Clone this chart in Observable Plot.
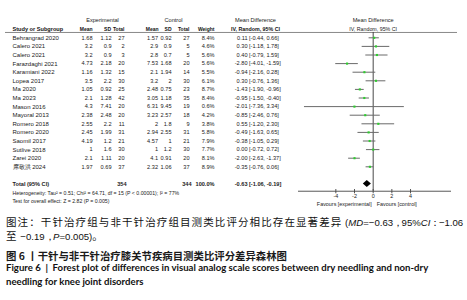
<!DOCTYPE html>
<html><head><meta charset="utf-8">
<script src="https://cdn.jsdelivr.net/npm/d3@7"></script>
<script src="https://cdn.jsdelivr.net/npm/@observablehq/plot@0.6"></script>
<style>
body{margin:0;background:#fff;width:467px;height:300px;overflow:hidden;position:relative}
#chart{position:absolute;left:0;top:0}
.cap{position:absolute;left:6px;white-space:nowrap;color:#111}
#c1{top:215px;font-family:"Noto Sans CJK SC",sans-serif;font-size:10.5px;line-height:13.4px;letter-spacing:1.1px}
#c1 .la{font-family:"Liberation Sans",Arial,sans-serif;font-size:9.6px;letter-spacing:0}
#c1 .pu{letter-spacing:-1.5px}
#c2{top:248.5px;font-family:"Noto Sans CJK SC",sans-serif;font-size:10.4px;line-height:13px;font-weight:bold;color:#1a1a1a}
#c3{top:261px;font-family:Lato,sans-serif;font-size:9.6px;line-height:14.4px;font-weight:bold;color:#111}
</style></head><body>
<div id="chart"></div>
<div id="c1" class="cap">图注：干针治疗组与非干针治疗组目测类比评分相比存在显著差异<span class="la"> (<i>MD</i>=−0.63<span class="pu">，</span>95%<i>CI</i><span class="pu">：</span>−1.06</span><br>至<span class="la"> −0.19<span class="pu">，</span><i>P</i>=0.005)</span>。</div>
<div id="c2" class="cap">图 6 丨干针与非干针治疗膝关节疾病目测类比评分差异森林图</div>
<div id="c3" class="cap">Figure 6 &nbsp;|&nbsp; Forest plot of differences in visual analog scale scores between dry needling and non-dry<br>needling for knee joint disorders</div>
<script>
const studies = ["Behrangrad 2020","Calero 2021","Calero 2021","Farazdaghi 2021","Karamiani 2022","Lopea 2017","Ma 2020","Ma 2023","Mason 2016","Mayoral 2013","Romero 2018","Romero 2020","Saomil 2017","Sutlive 2018","Zarei 2020","席敬洪 2024"];
const expMean = [1.68,3.2,3.2,4.73,1.16,3.5,1.05,2.1,4.3,2.38,2.55,2.45,4.19,1,2.1,1.97];
const expSD   = [1.12,0.9,0.9,2.18,1.32,2.2,0.92,1.28,7.41,2.48,2.2,1.99,1.2,1.6,1.11,0.69];
const expN    = [27,2,3,20,15,30,25,42,20,20,11,31,21,30,20,37];
const ctlMean = [1.57,2.9,2.8,7.53,2.1,3.2,2.48,3.05,6.31,3.23,2,2.94,4.57,1,4.1,2.32];
const ctlSD   = [0.92,0.9,0.7,1.68,1.94,2,0.75,1.18,9.45,2.57,1.8,2.55,1,1.2,0.91,1.06];
const ctlN    = [27,5,5,20,14,30,23,35,19,18,9,31,21,30,20,37];
const weights = [8.4,4.6,5.6,5.6,5.5,6.1,8.7,8.4,0.6,4.2,3.8,5.8,7.9,7.7,8.1,8.9];
const md      = [0.11,0.30,0.40,-2.80,-0.94,0.30,-1.43,-0.95,-2.01,-0.85,0.55,-0.49,-0.38,0.00,-2.00,-0.35];
const ciLow   = [-0.44,-1.18,-0.79,-4.01,-2.16,-0.76,-1.90,-1.50,-7.36,-2.46,-1.20,-1.63,-1.05,-0.72,-2.63,-0.76];
const ciHigh  = [0.66,1.78,1.59,-1.59,0.28,1.36,-0.96,-0.40,3.34,0.76,2.30,0.65,0.29,0.72,-1.37,0.06];
const totalExpN = 354, totalCtlN = 344, totalWeight = 100.0;
const totalMD = -0.63, totalLow = -1.06, totalHigh = -0.19;
const heterogeneity = "Heterogeneity: Tau² = 0.51; Chi² = 64.71, df = 15 (P < 0.00001); I² = 77%";
const overallTest = "Test for overall effect: Z = 2.82 (P = 0.005)";
const xTicks = [-4,-2,0,2,4];
const xDomain = [-8.0, 8.39];

const rows = studies.map((s,i)=>({i, study:s, em:expMean[i], es:expSD[i], en:expN[i], cm:ctlMean[i], cs:ctlSD[i], cn:ctlN[i], w:weights[i], md:md[i], lo:ciLow[i], hi:ciHigh[i]}));
const totalRow = studies.length + 1;
const axisRow = 17.84, headRule = -0.62;
const f2 = v => v.toFixed(2);
const ink = "#222";
const fs = 5.6, fsName = 6.0, fsHead = 5.0;
const col = (key, dx, opts={}) => Plot.text(rows, {y:"i", text:key, frameAnchor:"left", dx, textAnchor:"end", fill:ink, fontSize:fs, ...opts});
const one = (txt, y, dx, opts={}) => Plot.text([txt], {y:()=>y, text:d=>d, frameAnchor:"left", dx, textAnchor:"end", fill:ink, fontSize:fs, ...opts});
const hd = {fontWeight:"bold", fontSize:fsHead, fill:"#111"};

const diamond = [
  {y: totalRow - 0.42, x1: totalMD, x2: totalMD},
  {y: totalRow, x1: totalLow, x2: totalHigh},
  {y: totalRow + 0.42, x1: totalMD, x2: totalMD}
];

const chart = Plot.plot({
  width: 467, height: 210,
  marginLeft: 5, marginRight: 10, marginTop: 0, marginBottom: 0,
  style: {fontFamily: "'Liberation Sans', Arial, sans-serif", background: "#fff"},
  x: {domain: xDomain, range: [298, 451], axis: null},
  y: {domain: [0, 17], range: [37.3, 183.5], axis: null},
  marks: [
    // headers
    one("Experimental", -2.1, 97, {textAnchor:"middle", fontSize:5.6}),
    one("Control", -2.1, 168, {textAnchor:"middle", fontSize:5.6}),
    one("Mean Difference", -2.1, 250, {textAnchor:"middle", fontSize:5.6}),
    one("Study or Subgroup", -1, 7, {textAnchor:"start", ...hd, fontSize:5.6}),
    one("Mean", -1, 87, hd),
    one("SD", -1, 105.5, hd),
    one("Total", -1, 119, hd),
    one("Mean", -1, 153, hd),
    one("SD", -1, 166, hd),
    one("Total", -1, 184, hd),
    one("Weight", -1, 209, hd),
    one("IV, Random, 95% CI", -1, 250, {textAnchor:"middle", ...hd, fontSize:5.3}),
    Plot.text(["Mean Difference", "IV, Random, 95% CI"], {x: ()=>0, y: (d,i)=> i ? -1 : -2.1, text: d=>d, fill: ink, fontSize: (d,i)=> i ? 5.3 : 5.6, fontWeight: (d,i)=> i ? "bold" : "normal"}),
    Plot.ruleY([headRule], {stroke:"#888", strokeWidth:1}),
    // table body
    col("study", 7, {textAnchor:"start", fontSize:fsName}),
    col(d=>String(d.em), 87),
    col(d=>String(d.es), 106),
    col(d=>String(d.en), 119),
    col(d=>String(d.cm), 152.5),
    col(d=>String(d.cs), 166),
    col(d=>String(d.cn), 184),
    col(d=>d.w.toFixed(1)+"%", 209),
    col(d=>f2(d.md), 242),
    col(d=>`[${f2(d.lo)}, ${f2(d.hi)}]`, 243.5, {textAnchor:"start"}),
    // total row
    one("Total (95% CI)", totalRow, 7, {textAnchor:"start", fontWeight:"bold"}),
    one(String(totalExpN), totalRow, 121, {fontWeight:"bold"}),
    one(String(totalCtlN), totalRow, 186, {fontWeight:"bold"}),
    one(totalWeight.toFixed(1)+"%", totalRow, 209, {fontWeight:"bold"}),
    one(f2(totalMD), totalRow, 242, {fontWeight:"bold"}),
    one(`[${f2(totalLow)}, ${f2(totalHigh)}]`, totalRow, 243.5, {textAnchor:"start", fontWeight:"bold"}),
    one(heterogeneity, 18.1, 7, {textAnchor:"start", fontSize:5.2}),
    one(overallTest, 19.03, 7, {textAnchor:"start", fontSize:5.2}),
    // forest panel
    Plot.ruleX([0], {y1: headRule, y2: axisRow, stroke:"#333", strokeWidth:0.9}),
    Plot.ruleY(rows, {y:"i", x1:"lo", x2:"hi", stroke:"#6a6a6a", strokeWidth:1}),
    Plot.dot(rows, {x:"md", y:"i", symbol:"square", r:1.2, fill:"#2fcc2f", stroke:"none"}),
    Plot.areaX(diamond, {y:"y", x1:"x1", x2:"x2", fill:"#000"}),
    Plot.ruleY([axisRow], {x1: xDomain[0], x2: xDomain[1], stroke:"#444", strokeWidth:0.9}),
    Plot.ruleX(xTicks, {x: d=>d, y1: axisRow - 0.2, y2: axisRow + 0.3, stroke:"#444", strokeWidth:0.9}),
    Plot.text(xTicks, {x: d=>d, y: ()=>18.45, text: d=>String(d), fill: ink, fontSize: 5.4}),
    Plot.text(["Favours [experimental]"], {x: ()=>0, y: ()=>19.3, text: d=>d, dx: -1.5, textAnchor:"end", fill: ink, fontSize: 5.4}),
    Plot.text(["Favours [control]"], {x: ()=>0, y: ()=>19.3, text: d=>d, dx: 3.5, textAnchor:"start", fill: ink, fontSize: 5.4})
  ]
});
document.getElementById("chart").appendChild(chart);
</script>
</body></html>
